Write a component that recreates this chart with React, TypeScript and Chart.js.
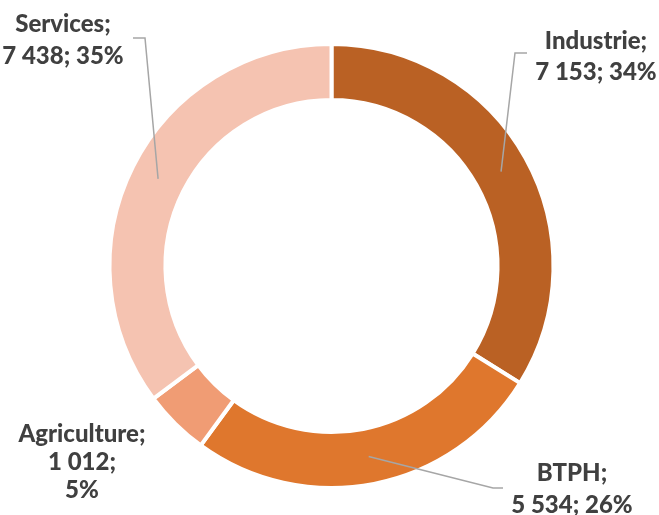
import React, { useEffect, useRef } from 'react';
import { Chart, registerables } from 'chart.js';

Chart.register(...registerables);

const categories = ['Industrie', 'BTPH', 'Agriculture', 'Services'];
const values = [7153, 5534, 1012, 7438];
const colors = ['#BA6124', '#DF772D', '#F09C74', '#F5C3B1'];

// label placement (layout only)
const labelLayout = [
  { x: 596, y: 49, lh: 31, lines3: false, elbow: [515, 53], tail: [527, 53] },
  { x: 572, y: 481, lh: 32, lines3: false, elbow: [493, 488], tail: [503, 488] },
  { x: 82, y: 442, lh: 28, lines3: true, elbow: null, tail: null },
  { x: 63, y: 32, lh: 32, lines3: false, elbow: [145, 38], tail: [133, 38] },
];

const fmt = (n: number) => String(n).replace(/\B(?=(\d{3})+(?!\d))/g, ' ');

const labelPlugin = {
  id: 'sliceLabels',
  afterDatasetsDraw(chart: any) {
    const ctx = chart.ctx;
    const meta = chart.getDatasetMeta(0);
    const data = chart.data.datasets[0].data as number[];
    const total = data.reduce((a, b) => a + b, 0);
    ctx.save();
    meta.data.forEach((arc: any, i: number) => {
      const lay = labelLayout[i];
      const p = arc.getCenterPoint();
      if (lay.elbow) {
        ctx.beginPath();
        ctx.strokeStyle = '#A6A6A6';
        ctx.lineWidth = 1.5;
        ctx.moveTo(p.x, p.y);
        ctx.lineTo(lay.elbow[0], lay.elbow[1]);
        ctx.lineTo(lay.tail![0], lay.tail![1]);
        ctx.stroke();
      }
      const pct = Math.round((data[i] / total) * 100) + '%';
      const name = chart.data.labels[i] + ';';
      const lines = lay.lines3
        ? [name, fmt(data[i]) + ';', pct]
        : [name, fmt(data[i]) + '; ' + pct];
      ctx.fillStyle = '#404040';
      ctx.font = '900 24px Lato, "Open Sans", sans-serif';
      ctx.textAlign = 'center';
      ctx.textBaseline = 'alphabetic';
      lines.forEach((t, k) => ctx.fillText(t, lay.x, lay.y + k * lay.lh));
    });
    ctx.restore();
  },
};

export default function App() {
  const ref = useRef<HTMLCanvasElement>(null);
  useEffect(() => {
    const chart = new Chart(ref.current!, {
      type: 'doughnut',
      data: {
        labels: categories,
        datasets: [
          {
            data: values,
            backgroundColor: colors,
            borderColor: '#FFFFFF',
            borderWidth: 4,
          },
        ],
      },
      options: {
        animation: false,
        responsive: false,
        cutout: '74.8%',
        layout: { padding: { top: 42, bottom: 25, left: 107.5, right: 103.5 } },
        plugins: {
          legend: { display: false },
          tooltip: { enabled: false },
        },
      },
      plugins: [labelPlugin],
    });
    return () => chart.destroy();
  }, []);
  return (
    <div style={{ position: 'fixed', left: 0, top: 0, width: 659, height: 515, background: '#fff' }}>
      <canvas ref={ref} width={659} height={515} style={{ width: 659, height: 515 }} />
    </div>
  );
}
